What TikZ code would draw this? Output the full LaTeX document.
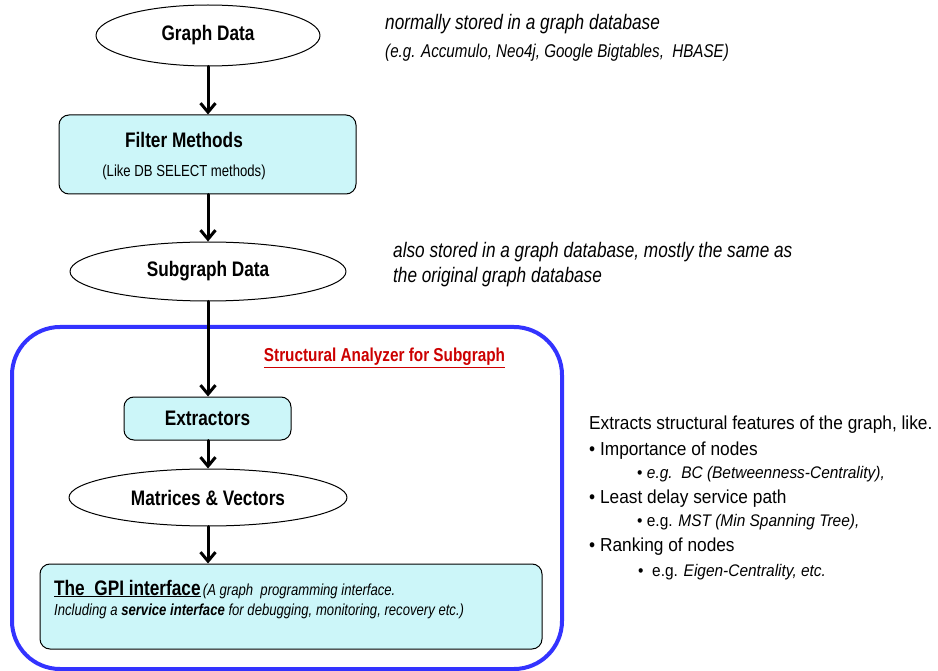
\documentclass[tikz,border=0pt]{standalone}
\usepackage{fontspec}
\setmainfont{Liberation Sans}[FakeStretch=0.82]
\newfontfamily\featfont{Liberation Sans}[FakeStretch=0.92]
\usetikzlibrary{shapes.geometric,arrows.meta}
\definecolor{boxcyan}{HTML}{CCF6F9}
\definecolor{frameblue}{HTML}{3333FF}
\definecolor{titlered}{HTML}{CC0000}

\begin{document}
\begin{tikzpicture}[x=1pt,y=-1pt,line cap=round,line join=round,
  >={Straight Barb[length=9pt,width=15pt]},
  flow/.style={->,line width=3pt},
  datanode/.style={ellipse,draw,line width=1pt,inner sep=0pt,font=\fontsize{21}{24}\selectfont\bfseries},
  procbox/.style={draw,line width=1pt,rounded corners=10pt,fill=boxcyan,inner sep=0pt},
  note/.style={anchor=base west,inner sep=0pt}]
\useasboundingbox (0,0) rectangle (938,671);
% main flow
\node[datanode,minimum width=224pt,minimum height=61pt] (graph) at (208,35.5) {Graph Data};
\node[procbox,minimum width=297pt,minimum height=79pt] (filter) at (207.5,154.5) {};
\node[anchor=base,inner sep=0pt,font=\fontsize{21}{24}\selectfont\bfseries] (filtertitle) at (184,148) {Filter Methods};
\node[anchor=base,inner sep=0pt,font=\fontsize{16}{19}\selectfont] (filtersub) at (184,177) {(Like DB SELECT methods)};
\node[datanode,minimum width=276pt,minimum height=59pt] (subgraph) at (208,271.5) {Subgraph Data};
% analyzer frame
\node[draw=frameblue,line width=4pt,rounded corners=48pt,minimum width=550pt,minimum height=342pt] (analyzer) at (287,498) {};
\node[anchor=base,inner sep=0pt,text=titlered,font=\fontsize{18.7}{22}\selectfont\bfseries] (analyzertitle) at (384.5,362) {\underline{Structural Analyzer for Subgraph}};
\node[procbox,minimum width=167pt,minimum height=43pt,font=\fontsize{21}{24}\selectfont\bfseries] (extract) at (207.5,418.5) {Extractors};
\node[datanode,minimum width=278pt,minimum height=57pt] (matrices) at (208,497.5) {Matrices \& Vectors};
\node[procbox,minimum width=502pt,minimum height=85pt] (gpi) at (291,606.5) {};
\node[note] (gpitext) at (54,595) {{\fontsize{21}{24}\selectfont\bfseries\underline{The\ \ GPI interface}} {\fontsize{16}{19}\selectfont\itshape(A graph\ \ programming interface.}};
\node[note,font=\fontsize{16}{19}\selectfont\itshape] (gpitext2) at (54,615) {Including a \textbf{service interface} for debugging, monitoring, recovery etc.)};
% connectors
\draw[flow] (graph.south) -- (graph.south |- filter.north);
\draw[flow] (graph.south |- filter.south) -- (subgraph.north);
\draw[flow] (subgraph.south) -- (subgraph.south |- extract.north);
\draw[flow] (subgraph.south |- extract.south) -- (matrices.north);
\draw[flow] (matrices.south) -- (matrices.south |- gpi.north);
% side notes
\node[note,font=\fontsize{21}{24}\selectfont\itshape] (graphnote) at (385,30) {normally stored in a graph database};
\node[note,font=\fontsize{18.5}{22}\selectfont\itshape] (graphnote2) at (385,58) {(e.g. Accumulo, Neo4j, Google Bigtables,\ \ HBASE)};
\node[note,font=\fontsize{21}{24}\selectfont\itshape] (subnote) at (393,258) {also stored in a graph database, mostly the same as};
\node[note,font=\fontsize{21}{24}\selectfont\itshape] (subnote2) at (393,283) {the original graph database};
\begin{scope}[font=\featfont\fontsize{18.8}{23}\selectfont]
\node[note] (feat) at (589,429) {Extracts structural features of the graph, like.};
\node[note] (feat1) at (589,455) {• Importance of nodes};
\node[note] (feat2) at (589,503) {• Least delay service path};
\node[note] (feat3) at (589,551) {• Ranking of nodes};
\end{scope}
\begin{scope}[font=\featfont\fontsize{16.8}{20}\selectfont]
\node[note] (feat1a) at (637,478) {• \textit{e.g.\ \ BC (Betweenness-Centrality),}};
\node[note] (feat2a) at (637,526) {• e.g. \textit{MST (Min Spanning Tree),}};
\node[note] (feat3a) at (638,576) {•\ \ e.g. \textit{Eigen-Centrality, etc.}};
\end{scope}
\end{tikzpicture}
\end{document}
